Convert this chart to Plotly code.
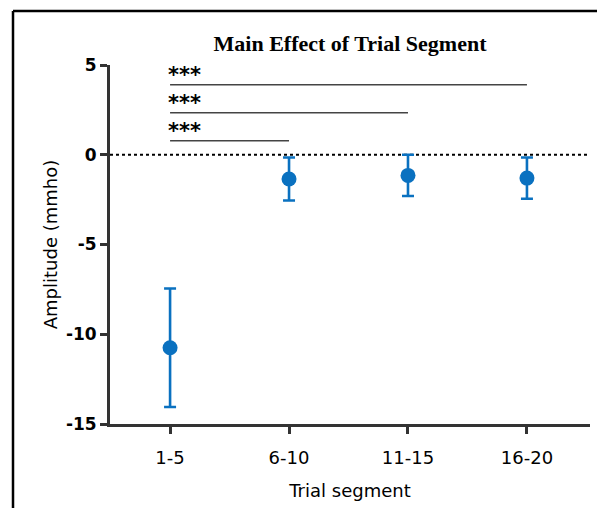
import plotly.graph_objects as go

categories = ["1-5", "6-10", "11-15", "16-20"]
means = [-10.75, -1.35, -1.15, -1.3]
sem = [3.3, 1.2, 1.15, 1.15]
y_ticks = [5, 0, -5, -10, -15]
y_tick_text = ["5", "0", "-5", "-10", "-15"]
sig_ends = ["6-10", "11-15", "16-20"]
sig_levels = [0.78, 2.34, 3.9]
sig_labels = ["***", "***", "***"]

BLUE = "#0A71C0"
OFF = 8  # default page body margin

fig = go.Figure()
fig.add_trace(go.Scatter(
    x=categories, y=means, mode="markers",
    marker=dict(color=BLUE, size=15, symbol="circle"),
    error_y=dict(type="data", array=sem, visible=True, color=BLUE, thickness=2.6, width=6),
    showlegend=False, cliponaxis=False,
))

# dotted zero line
fig.add_shape(type="line", xref="paper", yref="y", x0=0, x1=1, y0=0, y1=0,
              line=dict(color="black", width=2.2, dash="dot"), layer="below")

# significance bars
for end, lvl, lab in zip(sig_ends, sig_levels, sig_labels):
    fig.add_shape(type="line", xref="x", yref="y", x0=categories[0], x1=end, y0=lvl, y1=lvl,
                  line=dict(color="#444444", width=1.5))
    fig.add_annotation(x=categories[0], y=lvl, xref="x", yref="y", text="<b>" + lab + "</b>",
                       showarrow=False, xanchor="left", yanchor="bottom", xshift=-4, yshift=-4,
                       font=dict(family="DejaVu Sans", size=21, color="black"))

# outer border (only top and left edges visible)
bx0 = (13 - 110) / 480
bx1 = (640 - 110) / 480
by0 = (424 - 560) / 359
by1 = (424 - 11) / 359
fig.add_shape(type="line", xref="paper", yref="paper", x0=bx0, x1=bx1, y0=by1, y1=by1,
              line=dict(color="black", width=2.5))
fig.add_shape(type="line", xref="paper", yref="paper", x0=bx0, x1=bx0, y0=by0, y1=by1,
              line=dict(color="black", width=2.5))

H = 516 - 2 * OFF
fig.update_layout(
    width=605 - 2 * OFF, height=H,
    margin=dict(l=110 - OFF, r=15 - OFF, t=65 - OFF, b=92 - OFF),
    paper_bgcolor="white", plot_bgcolor="white",
    title=dict(text="<b>Main Effect of Trial Segment</b>", x=0.5, xref="paper", xanchor="center",
               y=1 - (43 - OFF) / H, yanchor="middle",
               font=dict(family="Liberation Serif", size=22, color="black")),
    xaxis=dict(range=[-0.505, 3.53], showgrid=False, zeroline=False,
               showline=True, linecolor="#333", linewidth=3,
               ticks="outside", ticklen=7, tickwidth=3, tickcolor="#333",
               ticklabelstandoff=8,
               tickfont=dict(family="DejaVu Sans", size=18, color="black"),
               title=dict(text="Trial segment", font=dict(family="DejaVu Sans", size=18, color="black"),
                          standoff=18)),
    yaxis=dict(range=[-15, 5], tickvals=y_ticks, ticktext=y_tick_text,
               showgrid=False, zeroline=False,
               showline=True, linecolor="#333", linewidth=3,
               ticks="outside", ticklen=7, tickwidth=3, tickcolor="#333",
               tickfont=dict(family="DejaVu Sans", size=17, color="black", weight="bold"),
               title=dict(text="Amplitude (mmho)", font=dict(family="DejaVu Sans", size=18, color="black"),
                          standoff=4)),
)

fig.write_html("out.html")
